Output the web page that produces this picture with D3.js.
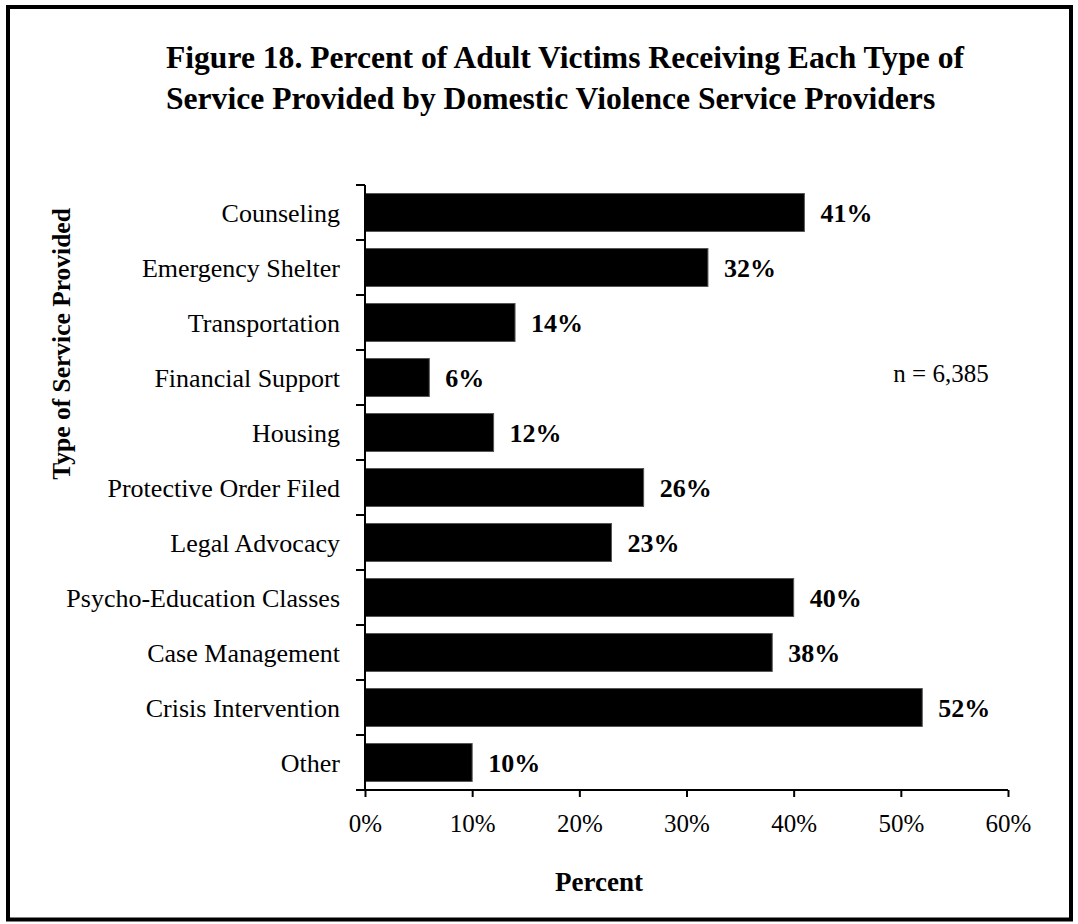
<!DOCTYPE html>
<html>
<head>
<meta charset="utf-8">
<script src="https://cdn.jsdelivr.net/npm/d3@7"></script>
<style>
  html, body { margin: 0; padding: 0; background: #fff; }
  svg { display: block; }
  text { font-family: "Liberation Serif", "Times New Roman", serif; fill: #000; }
</style>
</head>
<body>
<svg id="chart" width="1078" height="924"></svg>
<script>
// Service categories, top to bottom
const categories = [
  "Counseling",
  "Emergency Shelter",
  "Transportation",
  "Financial Support",
  "Housing",
  "Protective Order Filed",
  "Legal Advocacy",
  "Psycho-Education Classes",
  "Case Management",
  "Crisis Intervention",
  "Other"
];

// Percent of adult victims receiving each service
const percentValues = [41, 32, 14, 6, 12, 26, 23, 40, 38, 52, 10];

// X-axis ticks (percent)
const xTicks = [0, 10, 20, 30, 40, 50, 60];

const titleLines = [
  "Figure 18. Percent of Adult Victims Receiving Each Type of",
  "Service Provided by Domestic Violence Service Providers"
];
const xTitle = "Percent";
const yTitle = "Type of Service Provided";
const sampleNote = "n = 6,385";

const svg = d3.select("#chart");

// Frame around the whole figure
svg.append("rect")
  .attr("x", 8).attr("y", 7)
  .attr("width", 1063).attr("height", 912.5)
  .attr("fill", "#fff")
  .attr("stroke", "#000")
  .attr("stroke-width", 4);

// Title
svg.append("g").selectAll("text")
  .data(titleLines)
  .join("text")
  .attr("x", 166)
  .attr("y", (d, i) => 68 + i * 41)
  .attr("text-anchor", "start")
  .attr("font-weight", "bold")
  .attr("font-size", 31.6)
  .text(d => d);

const plot = { left: 365, right: 1008, top: 185, bottom: 790 };

const x = d3.scaleLinear()
  .domain([0, 60])
  .range([plot.left, plot.right]);

const y = d3.scaleBand()
  .domain(categories)
  .range([plot.top, plot.bottom])
  .paddingInner(0.31)
  .paddingOuter(0.155);

const rows = categories.map((c, i) => ({ name: c, value: percentValues[i] }));

// Bars
svg.append("g").selectAll("rect")
  .data(rows)
  .join("rect")
  .attr("x", x(0))
  .attr("y", d => y(d.name))
  .attr("width", d => x(d.value) - x(0))
  .attr("height", y.bandwidth())
  .attr("fill", "#000")
  .attr("stroke", "#555")
  .attr("stroke-width", 1);

// Value labels
svg.append("g").selectAll("text")
  .data(rows)
  .join("text")
  .attr("x", d => x(d.value) + 16)
  .attr("y", d => y(d.name) + y.bandwidth() / 2 + 9)
  .attr("font-weight", "bold")
  .attr("font-size", 26)
  .text(d => d.value + "%");

// Y axis: ticks at band boundaries
const yAxisG = svg.append("g");
yAxisG.append("line")
  .attr("x1", plot.left).attr("x2", plot.left)
  .attr("y1", plot.top).attr("y2", plot.bottom)
  .attr("stroke", "#000").attr("stroke-width", 2);
const step = y.step();
const boundaries = d3.range(categories.length).map(i => plot.top + i * step);
yAxisG.selectAll("line.tick")
  .data(boundaries)
  .join("line")
  .attr("class", "tick")
  .attr("x1", plot.left - 9).attr("x2", plot.left)
  .attr("y1", d => d).attr("y2", d => d)
  .attr("stroke", "#000").attr("stroke-width", 2);

// Category labels
svg.append("g").selectAll("text")
  .data(categories)
  .join("text")
  .attr("x", 340)
  .attr("y", d => y(d) + y.bandwidth() / 2 + 9)
  .attr("text-anchor", "end")
  .attr("font-size", 26)
  .text(d => d);

// X axis
const xAxis = d3.axisBottom(x)
  .tickValues(xTicks)
  .tickFormat(d => d + "%")
  .tickSize(7)
  .tickSizeOuter(0)
  .tickPadding(17);

const xAxisG = svg.append("g")
  .attr("transform", `translate(0,${plot.bottom})`)
  .call(xAxis);
xAxisG.select(".domain")
  .attr("stroke", "#000").attr("stroke-width", 2)
  .attr("d", `M${x(0) - 9},0H${x(60)}`);
xAxisG.selectAll(".tick line").attr("stroke", "#000").attr("stroke-width", 2);
xAxisG.selectAll(".tick text")
  .attr("font-family", "'Liberation Serif', serif")
  .attr("font-size", 25)
  .attr("fill", "#000");

// Axis titles
svg.append("text")
  .attr("x", 599)
  .attr("y", 891)
  .attr("text-anchor", "middle")
  .attr("font-weight", "bold")
  .attr("font-size", 27)
  .text(xTitle);

svg.append("text")
  .attr("transform", "translate(70,344) rotate(-90)")
  .attr("text-anchor", "middle")
  .attr("font-weight", "bold")
  .attr("font-size", 25.5)
  .text(yTitle);

// Sample size note
svg.append("text")
  .attr("x", 941)
  .attr("y", 382)
  .attr("text-anchor", "middle")
  .attr("font-size", 25)
  .text(sampleNote);
</script>
</body>
</html>
